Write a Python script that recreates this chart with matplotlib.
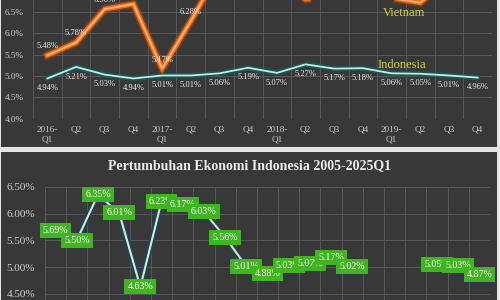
import matplotlib
matplotlib.use("Agg")
import matplotlib.pyplot as plt
import matplotlib.patheffects as pe
from matplotlib.patches import Rectangle
from matplotlib.ticker import FixedLocator, FuncFormatter
import numpy as np

# ---- data: top panel (quarterly, 2016-2019) ----
quarters = ["2016-\nQ1", "Q2", "Q3", "Q4", "2017-\nQ1", "Q2", "Q3", "Q4",
            "2018-\nQ1", "Q2", "Q3", "Q4", "2019-\nQ1", "Q2", "Q3", "Q4"]
vietnam = [5.48, 5.78, 6.56, 6.68, 5.17, 6.28, 7.46, 7.65,
           7.45, 6.79, 6.88, 7.31, 6.82, 6.71, 7.31, 6.97]
indonesia_q = [4.94, 5.21, 5.03, 4.94, 5.01, 5.01, 5.06, 5.19,
               5.07, 5.27, 5.17, 5.18, 5.06, 5.05, 5.01, 4.96]

# ---- data: bottom panel (annual, 2005-2025Q1) ----
years = [str(y) for y in range(2005, 2025)] + ["2025Q1"]
indonesia_y = [5.69, 5.50, 6.35, 6.01, 4.63, 6.23, 6.17, 6.03, 5.56, 5.01,
               4.88, 5.03, 5.07, 5.17, 5.02, np.nan, np.nan, np.nan,
               5.05, 5.03, 4.87]
title_bottom = "Pertumbuhan Ekonomi Indonesia 2005-2025Q1"

SERIF = ["Liberation Serif", "DejaVu Serif"]
plt.rcParams["font.family"] = SERIF

BG = "#383838"
GRID = "#585858"
TICK = "#cfcfcf"

fig = plt.figure(figsize=(5, 3), dpi=100, facecolor="#e4e4e4")
W, H = 500.0, 300.0
# panel backgrounds
fig.patches.append(Rectangle((1 / W, 1 - 147 / H), 496 / W, 147 / H,
                             transform=fig.transFigure, facecolor=BG,
                             edgecolor="none", zorder=-10))
fig.patches.append(Rectangle((1 / W, 0), 496 / W, 148 / H,
                             transform=fig.transFigure, facecolor=BG,
                             edgecolor="none", zorder=-10))

# ================= top panel =================
ax1 = fig.add_axes([33 / W, 1 - 118.7 / H, (492 - 33) / W, 118.7 / H])
ax1.set_facecolor("none")
xq = np.arange(len(quarters))
ax1.set_xlim(-0.5, len(quarters) - 0.5)
ax1.set_ylim(4.0, 4.0 + 118.7 / 42.8)
ax1.yaxis.set_major_locator(FixedLocator([4.0, 4.5, 5.0, 5.5, 6.0, 6.5]))
ax1.yaxis.set_major_formatter(FuncFormatter(lambda v, p: f"{v:.1f}%"))
ax1.set_xticks(xq)
ax1.set_xticklabels(quarters)
ax1.xaxis.set_minor_locator(FixedLocator(np.arange(-0.5, len(quarters), 1.0)))
ax1.grid(True, which="major", axis="y", color=GRID, lw=0.7)
ax1.grid(True, which="minor", axis="x", color=GRID, lw=0.7)
for s in ax1.spines.values():
    s.set_visible(False)
ax1.tick_params(which="both", length=0)
ax1.tick_params(axis="y", labelsize=6.6, labelcolor=TICK, pad=6.5)
ax1.tick_params(axis="x", labelsize=6.6, labelcolor=TICK, pad=5)
for t in ax1.get_xticklabels():
    t.set_linespacing(1.25)

ax1.plot(xq, vietnam, color="#ffb27a", lw=1.4, solid_joinstyle="miter",
         path_effects=[pe.Stroke(linewidth=6, foreground="#b84a08", alpha=0.45),
                       pe.Stroke(linewidth=3.6, foreground="#f06a14"),
                       pe.Normal()], zorder=3)
ax1.plot(xq, indonesia_q, color="#b8f2e4", lw=1.3,
         path_effects=[pe.Stroke(linewidth=4, foreground="#1d5656", alpha=0.8),
                       pe.Normal()], zorder=3)

for x, v in zip(xq, vietnam):
    ax1.annotate(f"{v:.2f}%", (x, v), xytext=(0, 6.5), textcoords="offset points",
                 ha="center", va="center", fontsize=6.1, color="#e8e8e8", zorder=5)
for x, v in zip(xq, indonesia_q):
    ax1.annotate(f"{v:.2f}%", (x, v), xytext=(0, -7), textcoords="offset points",
                 ha="center", va="center", fontsize=6.1, color="#e8e8e8", zorder=5)

ax1.text(12.43, 6.47, "Vietnam", ha="center", va="center", fontsize=9,
         color="#d6d23c", zorder=6)
ax1.text(12.36, 5.25, "Indonesia", ha="center", va="center", fontsize=9,
         color="#d6d23c", zorder=6)

# ================= bottom panel =================
ax2 = fig.add_axes([45 / W, 0, (490 - 45) / W, 1 - 186.7 / H - 0])
ax2.set_facecolor("none")
xy = np.arange(len(years))
ax2.set_xlim(-0.5, len(years) - 0.5)
ax2.set_ylim(6.5 - (300 - 186.7) / 53.6, 6.5)
ax2.yaxis.set_major_locator(FixedLocator([4.5, 5.0, 5.5, 6.0, 6.5]))
ax2.yaxis.set_major_formatter(FuncFormatter(lambda v, p: f"{v:.2f}%"))
ax2.set_xticks(xy)
ax2.set_xticklabels(years)
ax2.xaxis.set_minor_locator(FixedLocator(np.arange(-0.5, len(years), 1.0)))
ax2.grid(True, which="major", axis="y", color=GRID, lw=0.7)
ax2.grid(True, which="minor", axis="x", color=GRID, lw=0.7)
for s in ax2.spines.values():
    s.set_visible(False)
ax2.tick_params(which="both", length=0)
ax2.tick_params(axis="y", labelsize=8, labelcolor=TICK, pad=7)
# year labels lie below the cropped bottom edge of the reference
ax2.tick_params(axis="x", labelbottom=False)

ax2.plot(xy, indonesia_y, color="#d4f2a8", lw=1.5,
         path_effects=[pe.Stroke(linewidth=4.5, foreground="#1e3f6e"),
                       pe.Normal()], zorder=3)
for x, v in zip(xy, indonesia_y):
    if np.isnan(v):
        continue
    ax2.annotate(f"{v:.2f}%", (x, v), xytext=(0, 0), textcoords="offset points",
                 ha="center", va="center", fontsize=7.2, color="white", zorder=5,
                 bbox=dict(boxstyle="square,pad=0.3", facecolor="#40b521",
                           edgecolor="none"))

fig.text(0.5, 1 - 166 / H, title_bottom, ha="center", va="center",
         fontsize=10, fontweight="bold", color="#ececec")

fig.savefig("out.png", dpi=100, facecolor=fig.get_facecolor())
